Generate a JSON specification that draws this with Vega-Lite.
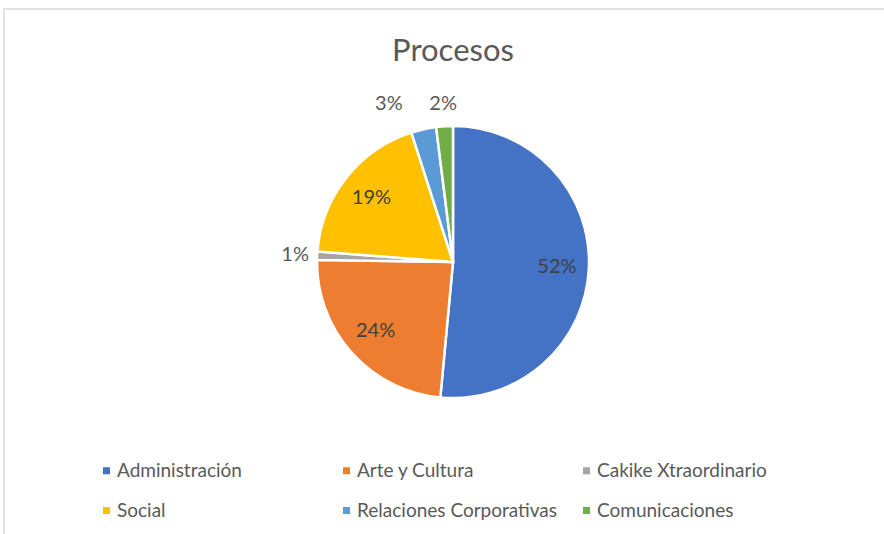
{
  "$schema": "https://vega.github.io/schema/vega-lite/v6.json",
  "autosize": "none",
  "width": 882,
  "height": 527,
  "padding": {"left": 4, "top": 9, "right": 0, "bottom": 0},
  "background": "white",
  "view": {"stroke": "#d9d9d9", "strokeWidth": 1.5},
  "title": {
    "text": "Procesos",
    "anchor": "middle",
    "frame": "group",
    "offset": -59,
    "dx": 8,
    "fontSize": 31,
    "font": "Lato",
    "fontWeight": "normal",
    "color": "#595959"
  },
  "data": {
    "values": [
      {"idx": 1, "categoria": "Administración", "valor": 0.52},
      {"idx": 2, "categoria": "Arte y Cultura", "valor": 0.24},
      {"idx": 3, "categoria": "Cakike Xtraordinario", "valor": 0.01},
      {"idx": 4, "categoria": "Social", "valor": 0.19},
      {"idx": 5, "categoria": "Relaciones Corporativas", "valor": 0.03},
      {"idx": 6, "categoria": "Comunicaciones", "valor": 0.02}
    ]
  },
  "encoding": {
    "theta": {"field": "valor", "type": "quantitative", "stack": true},
    "order": {"field": "idx", "type": "quantitative"}
  },
  "layer": [
    {
      "mark": {"type": "arc", "radius": 136, "stroke": "white", "strokeWidth": 2.5, "x": 449, "y": 253},
      "encoding": {
        "color": {
          "field": "categoria",
          "type": "nominal",
          "scale": {
            "domain": ["Administración", "Social", "Arte y Cultura", "Relaciones Corporativas", "Cakike Xtraordinario", "Comunicaciones"],
            "range": ["#4472C4", "#FFC000", "#ED7D31", "#5B9BD5", "#A5A5A5", "#70AD47"]
          },
          "legend": {
            "title": null,
            "orient": "none",
            "legendX": 93,
            "legendY": 452,
            "columns": 3,
            "gridAlign": "all",
            "columnPadding": 19,
            "rowPadding": 20,
            "symbolType": "square",
            "symbolSize": 49,
            "symbolStrokeWidth": 0,
            "labelFontSize": 19,
            "labelFont": "Lato",
            "labelColor": "#595959",
            "labelOffset": 1,
            "labelLimit": 400
          }
        }
      }
    },
    {
      "mark": {"type": "text", "radius": 104, "fontSize": 20, "font": "Lato", "color": "#404040", "x": 449, "y": 253},
      "encoding": {
        "text": {"field": "valor", "type": "quantitative", "format": ".0%"},
        "opacity": {"condition": {"test": "datum.valor >= 0.1", "value": 1}, "value": 0}
      }
    },
    {
      "mark": {"type": "text", "radius": 158, "fontSize": 20, "font": "Lato", "color": "#595959", "x": 449, "y": 253},
      "encoding": {
        "text": {"field": "valor", "type": "quantitative", "format": ".0%"},
        "opacity": {"condition": {"test": "datum.valor < 0.1 && datum.idx != 5", "value": 1}, "value": 0}
      }
    },
    {
      "mark": {"type": "text", "radius": 158, "fontSize": 20, "font": "Lato", "color": "#595959", "x": 449, "y": 253, "dx": -30, "dy": -4},
      "encoding": {
        "text": {"field": "valor", "type": "quantitative", "format": ".0%"},
        "opacity": {"condition": {"test": "datum.idx == 5", "value": 1}, "value": 0}
      }
    }
  ]
}
